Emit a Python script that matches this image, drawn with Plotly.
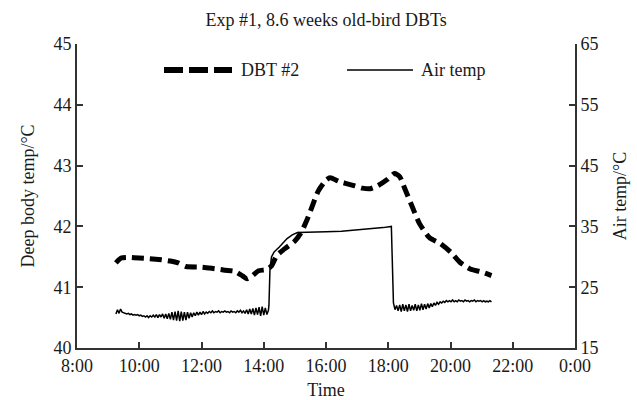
import pandas as pd
import plotly.graph_objects as go

# ---------------- data ----------------
title_text = "Exp #1, 8.6 weeks old-bird DBTs"
x_ticks = ["8:00", "10:00", "12:00", "14:00", "16:00", "18:00", "20:00", "22:00", "0:00"]
left_ticks = [40, 41, 42, 43, 44, 45]
right_ticks = [15, 25, 35, 45, 55, 65]

dbt_times = ["09:15", "09:25", "09:40", "10:00", "10:20", "10:43", "11:00", "11:15", "11:30",
             "12:00", "12:20", "12:45", "13:05", "13:20", "13:28", "13:37", "13:50", "14:05",
             "14:15", "14:25", "14:40", "15:00", "15:12", "15:23", "15:33", "15:45", "16:00",
             "16:08", "16:25", "16:50", "17:10", "17:25", "17:40", "17:58", "18:12", "18:22",
             "18:32", "18:45", "19:00", "19:20", "19:40", "20:00", "20:18", "20:38", "21:00", "21:19"]
dbt_values = [41.40, 41.48, 41.49, 41.48, 41.47, 41.45, 41.43, 41.40, 41.34,
              41.33, 41.31, 41.28, 41.26, 41.18, 41.14, 41.18, 41.27, 41.29,
              41.35, 41.52, 41.63, 41.76, 41.90, 42.10, 42.32, 42.58, 42.76,
              42.80, 42.74, 42.68, 42.63, 42.62, 42.67, 42.77, 42.87, 42.82,
              42.62, 42.35, 42.05, 41.81, 41.72, 41.58, 41.41, 41.30, 41.25, 41.19]

# air temp, morning part: one reading every 3 min from 09:15
air_morning_start = "09:15"
air_morning = [20.6, 21.3, 20.7, 21.4, 20.9, 20.8, 20.7, 20.6, 20.7, 20.5,
               20.6, 20.4, 20.5, 20.4, 20.5, 20.3, 20.4, 20.2, 20.3, 20.1,
               20.3, 20.0, 20.3, 20.1, 20.4, 20.1, 20.5, 20.0, 20.5, 20.1,
               20.6, 19.9, 20.6, 19.8, 20.7, 19.7, 20.9, 19.6, 21.0, 19.5,
               21.1, 19.4, 21.0, 19.5, 20.9, 19.6, 20.9, 19.9, 20.8, 20.1,
               20.8, 20.3, 20.9, 20.4, 20.9, 20.5, 21.0, 20.6, 20.9, 20.7,
               21.0, 20.8, 21.1, 20.8, 21.0, 20.9, 21.1, 20.8, 21.0, 20.9,
               21.1, 20.9, 21.0, 20.8, 21.1, 20.9, 21.0, 20.8, 21.1, 20.9,
               21.2, 20.8, 21.1, 20.7, 21.3, 20.6, 21.4, 20.6, 21.5, 20.4,
               21.6, 20.5, 21.7, 20.3, 21.8, 20.4, 21.6, 20.5, 21.2]

# air temp, heating period
air_heat_times = ["14:10", "14:12", "14:15", "14:20", "14:30", "14:45", "14:55", "15:05",
                  "15:20", "16:00", "16:30", "17:00", "17:30", "17:50", "18:06", "18:08"]
air_heat = [22.0, 28.0, 30.0, 30.8, 31.6, 33.0, 33.6, 34.0,
            34.0, 34.1, 34.2, 34.4, 34.6, 34.8, 35.0, 30.0]

# air temp, evening part: one reading every 3 min from 18:10
air_evening_start = "18:10"
air_evening = [22.4, 21.3, 22.0, 21.1, 22.1, 21.0, 22.2, 21.1, 22.1, 21.0,
               22.2, 21.1, 22.0, 21.2, 22.2, 21.1, 22.1, 21.2, 22.3, 21.3,
               22.2, 21.4, 22.3, 21.6, 22.3, 21.8, 22.4, 22.0, 22.5, 22.2,
               22.6, 22.4, 22.7, 22.5, 22.8, 22.6, 22.8, 22.6, 22.9, 22.6,
               22.8, 22.6, 22.9, 22.7, 22.8, 22.6, 22.9, 22.7, 22.8, 22.6,
               22.8, 22.7, 22.9, 22.6, 22.8, 22.7, 22.8, 22.6, 22.8, 22.6,
               22.7, 22.6, 22.8, 22.6]

DAY = "2000-01-01 "


def t(s):
    return pd.to_datetime(DAY + s)


dbt_x = [t(s) for s in dbt_times]
air_x = (list(pd.date_range(t(air_morning_start), periods=len(air_morning), freq="3min"))
         + [t(s) for s in air_heat_times]
         + list(pd.date_range(t(air_evening_start), periods=len(air_evening), freq="3min")))
air_y = air_morning + air_heat + air_evening

FONT = "Liberation Serif, Times New Roman, serif"
INK = "#1a1a1a"
FS = 18

fig = go.Figure()
fig.add_trace(go.Scatter(x=dbt_x, y=dbt_values, mode="lines", name="DBT #2",
                         line=dict(color="black", width=5, dash="12px,6px",
                                   shape="spline", smoothing=0.6),
                         showlegend=False))
fig.add_trace(go.Scatter(x=air_x, y=air_y, mode="lines", name="Air temp", yaxis="y2",
                         line=dict(color="black", width=1.5), showlegend=False))

tickvals_x = list(pd.date_range(t("08:00"), periods=len(x_ticks), freq="2h"))

axis_common = dict(showline=True, linecolor="#333", linewidth=1.8, ticks="inside",
                   ticklen=6, tickwidth=1.5, tickcolor="#333", showgrid=False,
                   zeroline=False, tickfont=dict(family=FONT, size=FS, color=INK),
                   mirror=False, automargin=False)

fig.update_layout(
    width=637, height=400,
    margin=dict(l=77, r=62, t=44, b=52),
    paper_bgcolor="white", plot_bgcolor="white",
    font=dict(family=FONT, size=FS, color=INK),
    title=dict(text=title_text, x=0.512, xanchor="center", y=0.95, yanchor="middle",
               font=dict(family=FONT, size=FS, color=INK)),
    xaxis=dict(range=[t("08:00"), t("08:00") + pd.Timedelta(hours=16)],
               tickvals=tickvals_x, ticktext=x_ticks,
               title=dict(text="Time", standoff=11, font=dict(family=FONT, size=FS)),
               **axis_common),
    yaxis=dict(range=[40, 45], tickvals=left_ticks,
               title=dict(text="Deep body temp/°C", standoff=14, font=dict(family=FONT, size=FS)),
               **axis_common),
    yaxis2=dict(range=[15, 65], tickvals=right_ticks, overlaying="y", side="right",
                title=dict(text="Air temp/°C", standoff=16, font=dict(family=FONT, size=FS)),
                **axis_common),
    showlegend=False,
)

# legend drawn as line samples + labels (paper coordinates)
def px_x(p):
    return (p - 77) / (637 - 77 - 62)


def px_y(p):
    return 1 - (p - 44) / (400 - 44 - 52)


fig.add_shape(type="line", xref="paper", yref="paper",
              x0=px_x(164), x1=px_x(232), y0=px_y(70), y1=px_y(70),
              line=dict(color="black", width=6, dash="19px,6px"))
fig.add_shape(type="line", xref="paper", yref="paper",
              x0=px_x(347), x1=px_x(413), y0=px_y(70), y1=px_y(70),
              line=dict(color="black", width=1.5))
fig.add_annotation(text="DBT #2", xref="paper", yref="paper", x=px_x(239), y=px_y(70),
                   xanchor="left", yanchor="middle", showarrow=False,
                   font=dict(family=FONT, size=FS, color=INK))
fig.add_annotation(text="Air temp", xref="paper", yref="paper", x=px_x(419), y=px_y(70),
                   xanchor="left", yanchor="middle", showarrow=False,
                   font=dict(family=FONT, size=FS, color=INK))

fig.write_html("out.html")
